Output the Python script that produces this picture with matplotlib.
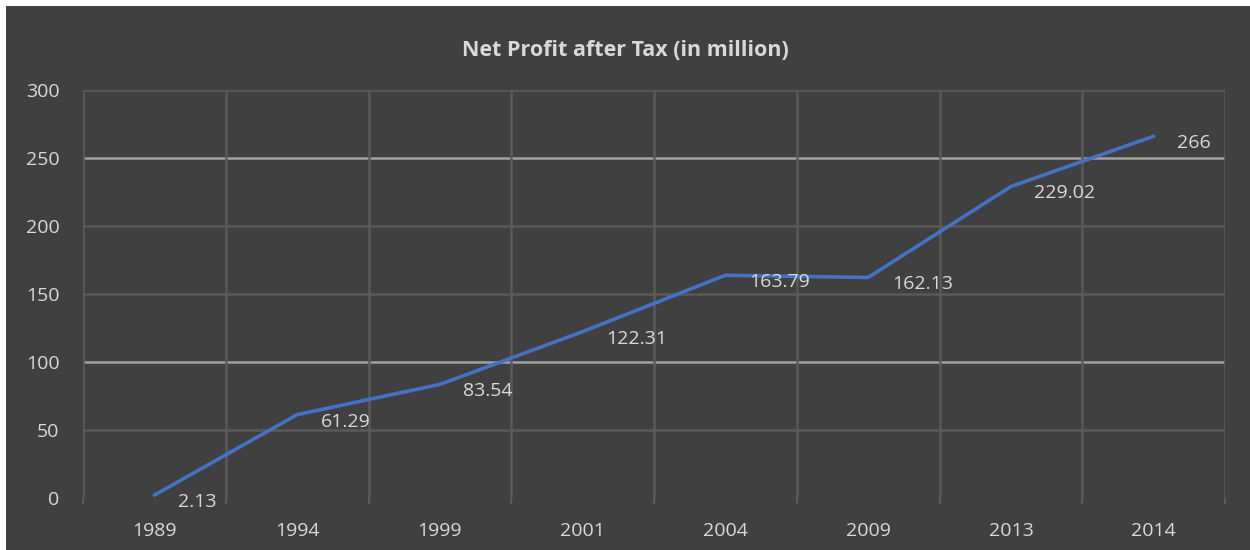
import matplotlib.pyplot as plt
from matplotlib.patches import Rectangle
import numpy as np

years = ['1989', '1994', '1999', '2001', '2004', '2009', '2013', '2014']
profit = [2.13, 61.29, 83.54, 122.31, 163.79, 162.13, 229.02, 266]
labels = ['2.13', '61.29', '83.54', '122.31', '163.79', '162.13', '229.02', '266']

plt.rcParams['font.family'] = ['Open Sans', 'DejaVu Sans']
bg = '#404040'
txt = '#d9d9d9'
grid = '#5a5a5a'
grid_hi = '#a0a0a0'

fig = plt.figure(figsize=(12.5, 5.5), dpi=100, facecolor='white')
# dark panel with a thin white margin on top and left
fig.patches.append(Rectangle((6 / 1250, 0), 1, 1 - 6 / 550, transform=fig.transFigure,
                             facecolor=bg, edgecolor='none', zorder=-1))
ax = fig.add_axes([83 / 1250, 52 / 550, (1225 - 83) / 1250, (498 - 90) / 550])
ax.set_facecolor(bg)

x = np.arange(len(years))
ax.plot(x, profit, color='#4472C4', linewidth=2.6, solid_capstyle='round', zorder=3)

for xi, v, lab in zip(x, profit, labels):
    ax.annotate(lab, (xi, v), xytext=(17, -5), textcoords='offset points',
                ha='left', va='center', color=txt, fontsize=14)

ax.set_xlim(-0.5, len(years) - 0.5)
ax.set_ylim(0, 300)
ax.set_yticks(range(0, 301, 50))
ax.set_xticks(x)
ax.set_xticklabels(years)
ax.set_xticks(np.arange(-0.5, len(years)), minor=True)

for y in range(50, 301, 50):
    ax.axhline(y, color=grid_hi if y in (100, 250) else grid, linewidth=1.8, zorder=1)
for b in np.arange(-0.5, len(years)):
    ax.axvline(b, color=grid, linewidth=1.8, zorder=1)

for s in ax.spines.values():
    s.set_visible(False)
ax.tick_params(axis='x', which='major', length=0, pad=17, labelcolor=txt, labelsize=14)
ax.tick_params(axis='x', which='minor', length=4, width=1.5, color=grid, direction='out')
ax.tick_params(axis='y', length=0, pad=17, labelcolor=txt, labelsize=14)

fig.text(0.5, 1 - 50 / 550, 'Net Profit after Tax (in million)', ha='center',
         va='center', color=txt, fontsize=15.5, fontweight='bold')

fig.savefig('out.png', dpi=100, facecolor=fig.get_facecolor())
